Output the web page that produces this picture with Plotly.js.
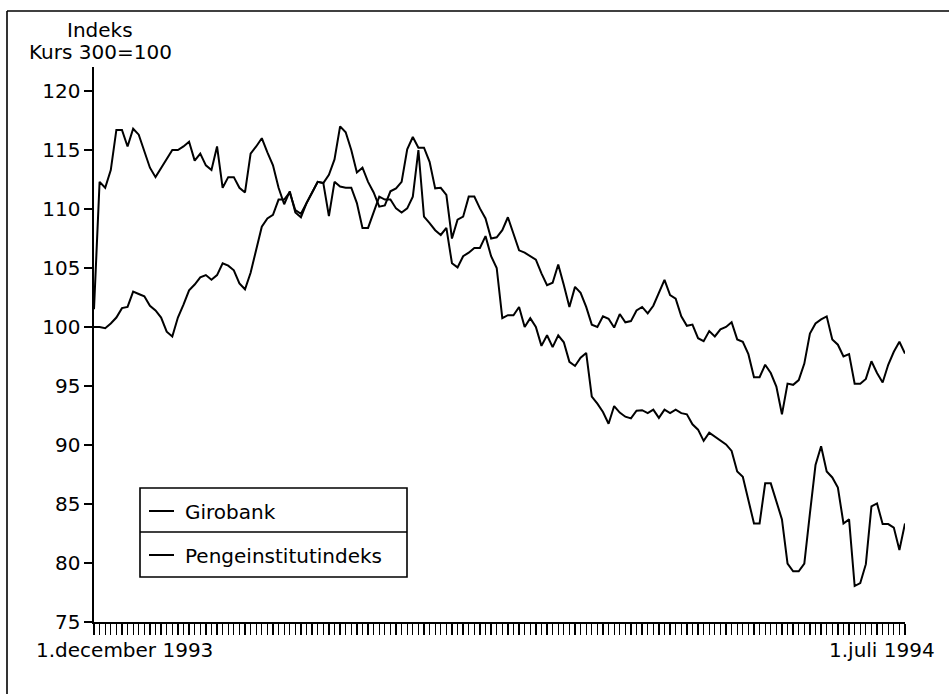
<!DOCTYPE html>
<html><head><meta charset="utf-8">
<script src="https://cdn.plot.ly/plotly-3.0.1.min.js"></script>
<style>html,body{margin:0;padding:0;background:#fff}#chart{width:949px;height:694px}</style>
</head><body><div id="chart"></div>
<script>
// ---- data ----
const seriesNames = ['Girobank', 'Pengeinstitutindeks'];
const girobank = [
  101.5, 112.3, 111.8, 113.3, 116.7, 116.7, 115.3, 116.8, 116.3, 114.8,
  113.5, 112.7, 113.5, 114.2, 115.0, 115.0, 115.3, 115.7, 114.1, 114.7,
  113.7, 113.3, 115.3, 111.8, 112.7, 112.7, 111.8, 111.4, 114.7, 115.3,
  116.0, 114.8, 113.7, 111.8, 110.4, 111.5, 109.7, 109.3, 110.5, 111.4,
  112.3, 112.2, 109.4, 112.3, 111.9, 111.8, 111.8, 110.5, 108.4, 108.4,
  109.8, 111.05, 110.8, 110.8, 110.05, 109.7, 110.05, 111.05, 115.0, 109.35,
  108.8, 108.2, 107.8, 108.4, 105.4, 105.05, 106.0, 106.3, 106.7, 106.7,
  107.7, 106.0, 105.0, 100.75, 101.0, 101.0, 101.7, 100.0, 100.75, 100.0,
  98.4, 99.3, 98.3, 99.3, 98.7, 97.05, 96.7, 97.4, 97.8, 94.1,
  93.5, 92.8, 91.8, 93.3, 92.75, 92.4, 92.25, 92.9, 92.95, 92.7,
  93.0, 92.3, 93.0, 92.7, 93.0, 92.7, 92.6, 91.75, 91.3, 90.35,
  91.05, 90.7, 90.4, 90.05, 89.5, 87.75, 87.3, 85.35, 83.35, 83.35,
  86.75, 86.75, 85.2, 83.7, 79.95, 79.3, 79.3, 79.95, 84.2, 88.3,
  89.9, 87.75, 87.25, 86.4, 83.35, 83.7, 78.05, 78.3, 79.9, 84.8,
  85.05, 83.3, 83.3, 83.0, 81.1, 83.35
];
const pengeinstitut = [
  100.0, 100.0, 99.9, 100.3, 100.8, 101.6, 101.7, 103.0, 102.8, 102.6,
  101.8, 101.4, 100.8, 99.6, 99.2, 100.8, 101.9, 103.1, 103.6, 104.2,
  104.4, 104.0, 104.4, 105.4, 105.2, 104.8, 103.7, 103.2, 104.6, 106.6,
  108.5, 109.2, 109.5, 110.8, 110.8, 111.4, 109.9, 109.6, 110.5, 111.4,
  112.3, 112.2, 112.9, 114.2, 117.0, 116.5, 115.0, 113.1, 113.5, 112.3,
  111.4, 110.2, 110.3, 111.5, 111.75, 112.3, 115.05, 116.1, 115.2, 115.2,
  114.0, 111.75, 111.8, 111.2, 107.5, 109.1, 109.35, 111.05, 111.05, 110.05,
  109.2, 107.5, 107.6, 108.2, 109.3, 107.9, 106.5, 106.3, 106.0, 105.7,
  104.55, 103.55, 103.75, 105.3, 103.55, 101.7, 103.4, 102.9, 101.7, 100.2,
  100.0, 100.9, 100.7, 99.95, 101.1, 100.4, 100.5, 101.4, 101.7, 101.15,
  101.8, 102.85, 104.0, 102.7, 102.4, 100.9, 100.1, 100.2, 99.05, 98.8,
  99.65, 99.2, 99.8, 100.0, 100.4, 98.95, 98.75, 97.7, 95.75, 95.75,
  96.8, 96.1, 94.95, 92.6, 95.2, 95.1, 95.5, 96.9, 99.45, 100.3,
  100.65, 100.9, 98.95, 98.5, 97.5, 97.7, 95.2, 95.2, 95.6, 97.1,
  96.1, 95.3, 96.8, 97.9, 98.75, 97.75
];
const yTickValues = [75, 80, 85, 90, 95, 100, 105, 110, 115, 120];
const yTitleLines = ['Indeks', 'Kurs 300=100'];
const xLabelStart = '1.december 1993';
const xLabelEnd = '1.juli 1994';

// trading-day index along the x axis
const dayIndex = girobank.map((_, i) => i);

// ---- layout helpers (pixel -> paper) ----
const M = {l: 94, r: 44, t: 67, b: 72};
const PW = 949 - M.l - M.r, PH = 694 - M.t - M.b;
const px = p => (p - M.l) / PW;
const py = p => (694 - M.b - p) / PH;

const FONT = 'DejaVu Sans';
const lineStyle = {color: '#000', width: 2};

const traces = [
  {x: dayIndex, y: girobank, name: seriesNames[0], type: 'scatter', mode: 'lines', line: lineStyle, showlegend: false, hoverinfo: 'skip'},
  {x: dayIndex, y: pengeinstitut, name: seriesNames[1], type: 'scatter', mode: 'lines', line: lineStyle, showlegend: false, hoverinfo: 'skip'}
];

const layout = {
  width: 949, height: 694,
  margin: M,
  paper_bgcolor: '#fff', plot_bgcolor: '#fff',
  font: {family: FONT, size: 20, color: '#000'},
  showlegend: false,
  xaxis: {
    range: [0, girobank.length - 1],
    showgrid: false, zeroline: false,
    showline: true, linecolor: '#000', linewidth: 1.6,
    ticks: 'outside', ticklen: 11, tickwidth: 1.3, tickcolor: '#000',
    tickmode: 'linear', tick0: 0, dtick: 1,
    showticklabels: false
  },
  yaxis: {
    range: [75, 75 + PH / 11.8],
    showgrid: false, zeroline: false,
    showline: true, linecolor: '#000', linewidth: 1.6,
    ticks: 'outside', ticklen: 8, tickwidth: 1.3, tickcolor: '#000',
    tickmode: 'array', tickvals: yTickValues,
    tickfont: {family: FONT, size: 20, color: '#000'}
  },
  shapes: [
    // outer frame (top and left edges)
    {type: 'line', xref: 'paper', yref: 'paper', x0: px(7), x1: px(949), y0: py(11), y1: py(11), line: {color: '#000', width: 1.6}},
    {type: 'line', xref: 'paper', yref: 'paper', x0: px(7), x1: px(7), y0: py(11), y1: py(694), line: {color: '#000', width: 1.6}},
    // legend box
    {type: 'rect', xref: 'paper', yref: 'paper', x0: px(140), x1: px(407), y0: py(488), y1: py(577), line: {color: '#000', width: 1.6}, fillcolor: 'rgba(0,0,0,0)'},
    {type: 'line', xref: 'paper', yref: 'paper', x0: px(140), x1: px(407), y0: py(532), y1: py(532), line: {color: '#000', width: 1.6}},
    {type: 'line', xref: 'paper', yref: 'paper', x0: px(149), x1: px(174), y0: py(511), y1: py(511), line: lineStyle},
    {type: 'line', xref: 'paper', yref: 'paper', x0: px(149), x1: px(174), y0: py(555), y1: py(555), line: lineStyle}
  ],
  annotations: [
    {text: yTitleLines[0], xref: 'paper', yref: 'paper', x: px(100), y: py(30), xanchor: 'center', yanchor: 'middle', showarrow: false, font: {family: FONT, size: 20}},
    {text: yTitleLines[1], xref: 'paper', yref: 'paper', x: px(100), y: py(52), xanchor: 'center', yanchor: 'middle', showarrow: false, font: {family: FONT, size: 20}},
    {text: xLabelStart, xref: 'paper', yref: 'paper', x: px(34), y: py(650), xanchor: 'left', yanchor: 'middle', showarrow: false, font: {family: FONT, size: 20}},
    {text: xLabelEnd, xref: 'paper', yref: 'paper', x: px(827), y: py(650), xanchor: 'left', yanchor: 'middle', showarrow: false, font: {family: FONT, size: 20}},
    {text: seriesNames[0], xref: 'paper', yref: 'paper', x: px(183), y: py(512), xanchor: 'left', yanchor: 'middle', showarrow: false, font: {family: FONT, size: 20}},
    {text: seriesNames[1], xref: 'paper', yref: 'paper', x: px(183), y: py(556), xanchor: 'left', yanchor: 'middle', showarrow: false, font: {family: FONT, size: 20}}
  ]
};

Plotly.newPlot('chart', traces, layout, {staticPlot: true, displayModeBar: false});
</script>
</body></html>
